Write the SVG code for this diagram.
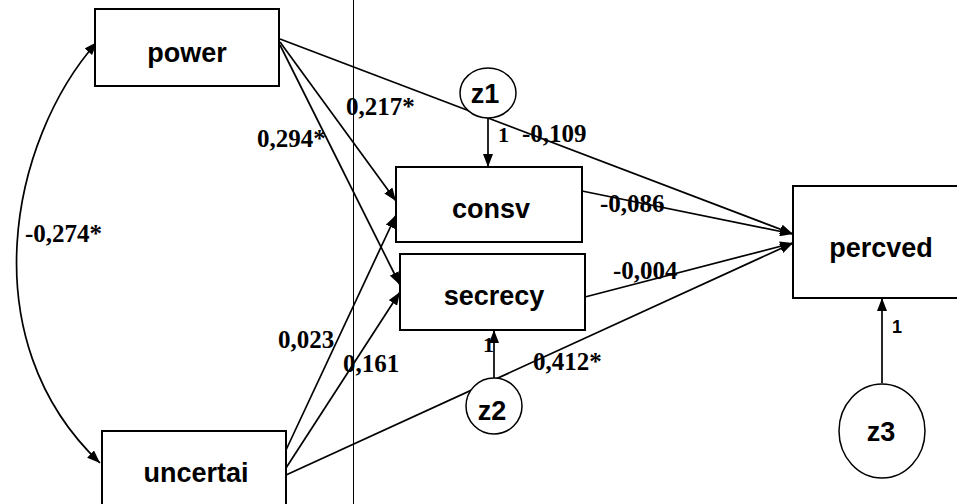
<svg xmlns="http://www.w3.org/2000/svg" width="957" height="504" viewBox="0 0 957 504">
  <style>
    .box { fill: #fff; stroke: #000; stroke-width: 2; }
    .lat { fill: #fff; stroke: #000; stroke-width: 1.5; }
    .name { font-family: "Liberation Sans", Arial, sans-serif; font-weight: bold; font-size: 27px; fill: #000; text-anchor: middle; }
    .coef { font-family: "Liberation Serif", "Times New Roman", serif; font-weight: bold; font-size: 25px; fill: #000; }
    .one { font-family: "Liberation Serif", "Times New Roman", serif; font-weight: bold; font-size: 22px; fill: #000; }
    .onesans { font-family: "Liberation Sans", Arial, sans-serif; font-weight: bold; font-size: 18px; fill: #000; }
    .edge { fill: none; stroke: #000; stroke-width: 1.7; marker-end: url(#head); }
    .guide { stroke: #000; stroke-width: 1; }
  </style>
  <defs>
    <marker id="head" viewBox="0 0 13 10" refX="13" refY="5" markerWidth="13" markerHeight="10" markerUnits="userSpaceOnUse" orient="auto-start-reverse">
      <path d="M0,0 L13,5 L0,10 Z" fill="#000"/>
    </marker>
  </defs>
  <rect width="957" height="504" fill="#fff"/>

  <!-- thin vertical rule across the page -->
  <line class="guide" x1="353.5" y1="0" x2="353.5" y2="504"/>

  <g id="connectors">
    <!-- covariance between exogenous variables -->
    <path class="edge" d="M100,463 C-30,340 10,140 97,42" marker-start="url(#head)"/>
    <!-- from power -->
    <line class="edge" x1="280" y1="39" x2="793" y2="234"/>
    <line class="edge" x1="280" y1="42" x2="396" y2="201"/>
    <line class="edge" x1="280" y1="45" x2="400" y2="285"/>
    <!-- from uncertai -->
    <line class="edge" x1="286" y1="450" x2="396" y2="215"/>
    <line class="edge" x1="286" y1="468" x2="400" y2="292"/>
    <line class="edge" x1="286" y1="475" x2="793" y2="243"/>
    <!-- mediators to outcome -->
    <line class="edge" x1="582" y1="191" x2="793" y2="234"/>
    <line class="edge" x1="585" y1="297" x2="793" y2="243"/>
    <!-- disturbances -->
    <line class="edge" x1="488" y1="118" x2="488" y2="167"/>
    <line class="edge" x1="494" y1="378" x2="494" y2="330"/>
    <line class="edge" x1="882" y1="383" x2="882" y2="298"/>
  </g>

  <g id="power">
    <rect class="box" x="95" y="9" width="184" height="77"/>
    <text class="name" x="187" y="62">power</text>
  </g>
  <g id="uncertai">
    <rect class="box" x="102" y="431" width="184" height="90"/>
    <text class="name" x="196" y="482">uncertai</text>
  </g>
  <g id="consv">
    <rect class="box" x="396" y="167" width="186" height="75"/>
    <text class="name" x="491" y="218">consv</text>
  </g>
  <g id="secrecy">
    <rect class="box" x="400" y="254" width="185" height="76"/>
    <text class="name" x="494" y="305">secrecy</text>
  </g>
  <g id="percved">
    <rect class="box" x="793" y="186" width="180" height="112"/>
    <text class="name" x="881" y="257">percved</text>
  </g>
  <g id="z1">
    <ellipse class="lat" cx="488" cy="93" rx="28" ry="25"/>
    <text class="name" x="485" y="103">z1</text>
  </g>
  <g id="z2">
    <ellipse class="lat" cx="494" cy="406" rx="28" ry="28"/>
    <text class="name" x="492" y="420">z2</text>
  </g>
  <g id="z3">
    <ellipse class="lat" cx="882" cy="431" rx="43" ry="47"/>
    <text class="name" x="881" y="441">z3</text>
  </g>

  <g id="labels">
    <text class="coef" x="25" y="242">-0,274*</text>
    <text class="coef" x="257" y="147">0,294*</text>
    <text class="coef" x="346" y="115">0,217*</text>
    <text class="coef" x="522" y="142">-0,109</text>
    <text class="coef" x="600" y="212">-0,086</text>
    <text class="coef" x="613" y="279">-0,004</text>
    <text class="coef" x="278" y="348">0,023</text>
    <text class="coef" x="343" y="372">0,161</text>
    <text class="coef" x="533" y="370">0,412*</text>
    <text class="one" x="498" y="142">1</text>
    <text class="one" x="483" y="352">1</text>
    <text class="onesans" x="892" y="333">1</text>
  </g>
</svg>
